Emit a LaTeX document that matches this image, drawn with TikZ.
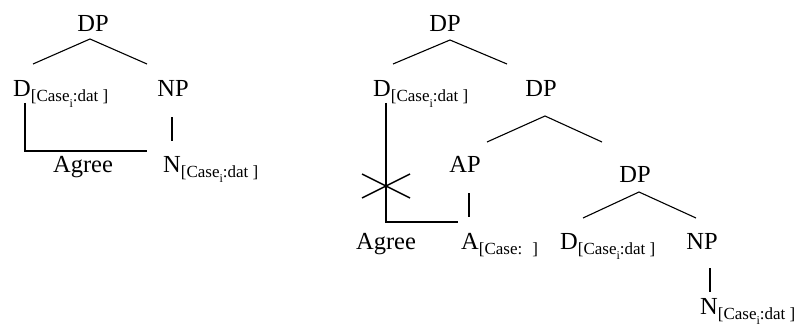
\documentclass[tikz,border=0pt]{standalone}
\usepackage{fontspec}
\setmainfont{Liberation Serif}
\usetikzlibrary{positioning}

% feature bundles set small and lowered
\newcommand{\feat}[1]{\raisebox{-5pt}{\fontsize{17}{17}\selectfont #1}}
\newcommand{\idx}[1]{\raisebox{-5pt}{\fontsize{12}{12}\selectfont #1}}

\tikzset{
  lbl/.style={inner sep=0pt, anchor=base, font=\fontsize{24.5}{28}\selectfont},
  headlbl/.style={lbl, anchor=base west},
  branch/.style={line width=1.1pt},
  agreeline/.style={line width=2pt},
  cross/.style={line width=1.5pt}
}

\begin{document}
\begin{tikzpicture}[x=1pt,y=-1pt]
  \useasboundingbox (0,0) rectangle (802,326);

  % left tree
  \node[lbl] (dpA) at (93,32) {DP};
  \node[headlbl] (dA) at (13,97) {D\feat{[Case\idx{i}:dat ]}};
  \node[lbl] (npA) at (173,97) {NP};
  \node[headlbl] (nA) at (163,172) {N\feat{[Case\idx{i}:dat ]}};
  \node[lbl] (agA) at (83,172) {Agree};

  \coordinate (dpA-b) at (90,39);
  \coordinate (dA-t) at (33,64);
  \coordinate (npA-t) at (147,64);
  \coordinate (npA-b) at (172,117);
  \coordinate (nA-t) at (172,141);
  \coordinate (agA-s) at (25,103);
  \coordinate (agA-c) at (25,151);
  \coordinate (agA-e) at (147,151);

  \draw[branch] (dA-t) -- (dpA-b) -- (npA-t);
  \draw[branch] (npA-b) -- (nA-t);
  \draw[agreeline] (agA-s) -- (agA-c) -- (agA-e);

  % right tree
  \node[lbl] (dpB) at (445,32) {DP};
  \node[headlbl] (dB) at (373,97) {D\feat{[Case\idx{i}:dat ]}};
  \node[lbl] (dpC) at (541,97) {DP};
  \node[lbl] (apB) at (465,172) {AP};
  \node[lbl] (dpD) at (635,182) {DP};
  \node[lbl] (agB) at (386,249) {Agree};
  \node[headlbl] (aB) at (461,249) {A\feat{[Case:\hspace{10pt}]}};
  \node[headlbl] (dD) at (560,249) {D\feat{[Case\idx{i}:dat ]}};
  \node[lbl] (npB) at (702,249) {NP};
  \node[headlbl] (nB) at (700,314) {N\feat{[Case\idx{i}:dat ]}};

  \coordinate (dpB-b) at (450,40);
  \coordinate (dB-t) at (393,64);
  \coordinate (dpC-t) at (507,64);
  \coordinate (dpC-b) at (545,116);
  \coordinate (apB-t) at (487,142);
  \coordinate (dpD-t) at (602,142);
  \coordinate (apB-b) at (469,193);
  \coordinate (aB-t) at (469,217);
  \coordinate (dpD-b) at (639,192);
  \coordinate (dD-t) at (583,218);
  \coordinate (npB-t) at (696,218);
  \coordinate (npB-b) at (710,268);
  \coordinate (nB-t) at (710,292);
  \coordinate (agB-s) at (386,103);
  \coordinate (agB-c) at (386,222);
  \coordinate (agB-e) at (458,222);

  \draw[branch] (dB-t) -- (dpB-b) -- (dpC-t);
  \draw[branch] (apB-t) -- (dpC-b) -- (dpD-t);
  \draw[branch] (apB-b) -- (aB-t);
  \draw[branch] (dD-t) -- (dpD-b) -- (npB-t);
  \draw[branch] (npB-b) -- (nB-t);
  \draw[agreeline] (agB-s) -- (agB-c) -- (agB-e);

  % blocked agree
  \coordinate (xA) at (362,174);
  \coordinate (xB) at (410,198);
  \coordinate (xC) at (362,198);
  \coordinate (xD) at (410,174);
  \draw[cross] (xA) -- (xB);
  \draw[cross] (xC) -- (xD);
\end{tikzpicture}
\end{document}
